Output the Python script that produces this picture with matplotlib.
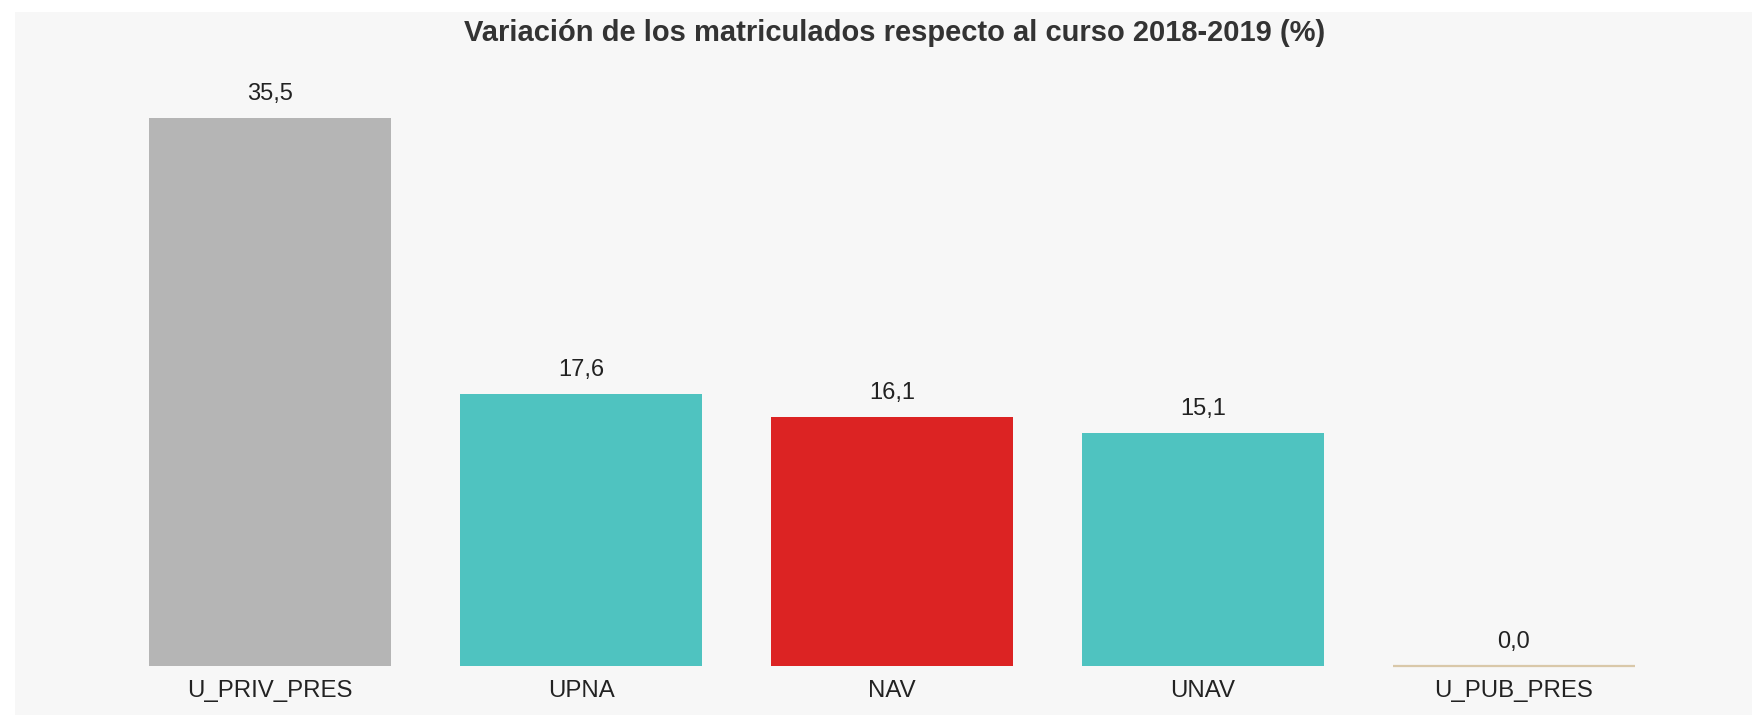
import matplotlib.pyplot as plt

############################################################
# Data
############################################################

categories = ['U_PRIV_PRES', 'UPNA', 'NAV', 'UNAV', 'U_PUB_PRES']
values = [35.5, 17.6, 16.1, 15.1, 0.0]
bar_colors = ['#b5b5b5', '#4fc3c0', '#dc2323', '#4fc3c0', '#d9c8a9']
title = 'Variación de los matriculados respecto al curso 2018-2019 (%)'

############################################################
# Plot
############################################################

plt.rcParams['font.family'] = ['Liberation Sans', 'DejaVu Sans']

W, H = 1752, 715
fig = plt.figure(figsize=(W / 100, H / 100), dpi=100)
fig.patch.set_facecolor('white')

# axes covers the grey panel
ax = fig.add_axes([15 / W, 0, 1 - 15 / W, (H - 12) / H])
ax.set_facecolor('#f7f7f7')

x = list(range(len(categories)))
bars = ax.bar(x, values, width=0.775, color=bar_colors, zorder=2)
# zero-height bar shows as a thin line
for b, v, c in zip(bars, values, bar_colors):
    if v == 0:
        b.set_edgecolor(c)
        b.set_linewidth(1.6)

for xi, v in zip(x, values):
    ax.annotate(f'{v:.1f}'.replace('.', ','), (xi, v), xytext=(0, 13),
                textcoords='offset points', ha='center', va='baseline',
                fontsize=17, color='#222222')

px_per_unit = 548 / 35.5
ax.set_xlim((15 - 270) / 311, (W - 270) / 311)
ax.set_ylim(-49 / px_per_unit, (703 - 49) / px_per_unit)

ax.set_xticks(x)
ax.set_xticklabels(categories, fontsize=17.3, color='#222222')
ax.tick_params(axis='x', length=0, pad=-25)
ax.set_yticks([])
for s in ax.spines.values():
    s.set_visible(False)

fig.text(895 / W, (H - 41) / H, title, ha='center', va='baseline',
         fontsize=21, fontweight='bold', color='#333333')

fig.savefig('out.png', dpi=100)
